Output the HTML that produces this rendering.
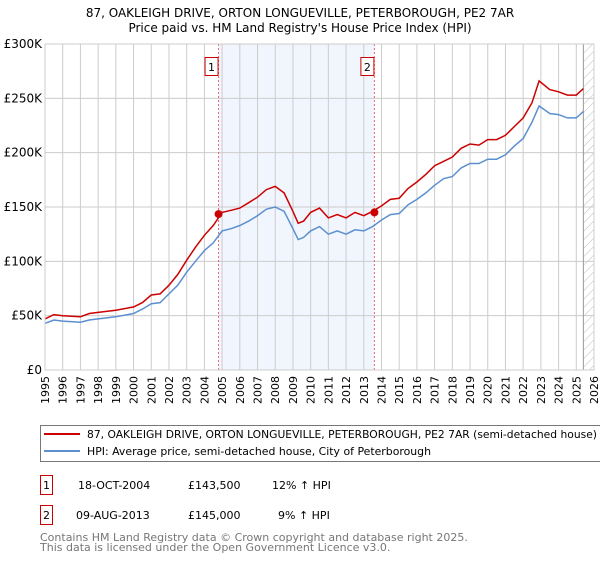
<!DOCTYPE html>
<html><head><meta charset="utf-8">
<style>
body{margin:0;background:#fff;width:600px;height:560px;overflow:hidden;font-family:"DejaVu Sans","Liberation Sans",sans-serif}
svg text{font-family:"DejaVu Sans","Liberation Sans",sans-serif}
</style></head><body>
<svg id="c" width="600" height="560" xmlns="http://www.w3.org/2000/svg">
<text x="300" y="17" text-anchor="middle" font-size="12">87, OAKLEIGH DRIVE, ORTON LONGUEVILLE, PETERBOROUGH, PE2 7AR</text>
<text x="300" y="32" text-anchor="middle" font-size="12">Price paid vs. HM Land Registry's House Price Index (HPI)</text>
<g id="plot"></g>
<rect x="40.5" y="425.5" width="560" height="36" fill="#fff" stroke="#777"/>
<line x1="44" y1="434" x2="80" y2="434" stroke="#cc0000" stroke-width="2"/>
<text x="87" y="438" font-size="11" textLength="510" lengthAdjust="spacingAndGlyphs">87, OAKLEIGH DRIVE, ORTON LONGUEVILLE, PETERBOROUGH, PE2 7AR (semi-detached house)</text>
<line x1="44" y1="451" x2="80" y2="451" stroke="#5b8fd0" stroke-width="2"/>
<text x="87" y="455" font-size="11" textLength="344" lengthAdjust="spacingAndGlyphs">HPI: Average price, semi-detached house, City of Peterborough</text>
<g>
<rect x="40.5" y="475.5" width="12" height="19" fill="#fff" stroke="#cc0000"/>
<text x="46.5" y="489" text-anchor="middle" font-size="11">1</text>
<text x="78" y="489" font-size="11">18-OCT-2004</text>
<text x="188" y="489" font-size="11">£143,500</text>
<text x="272" y="489" font-size="11">12% ↑ HPI</text>
</g>
<g>
<rect x="40.5" y="505.5" width="12" height="19" fill="#fff" stroke="#cc0000"/>
<text x="46.5" y="519" text-anchor="middle" font-size="11">2</text>
<text x="76" y="519" font-size="11">09-AUG-2013</text>
<text x="188" y="519" font-size="11">£145,000</text>
<text x="278" y="519" font-size="11">9% ↑ HPI</text>
</g>
<text x="40" y="541" font-size="11" fill="#777">Contains HM Land Registry data © Crown copyright and database right 2025.</text>
<text x="40" y="551" font-size="11" fill="#777">This data is licensed under the Open Government Licence v3.0.</text>
</svg>
<script>
const years=[1995,1995.5,1996,1997,1997.5,1998,1999,2000,2000.5,2001,2001.5,2002,2002.5,2003,2003.5,2004,2004.5,2005,2005.5,2006,2006.5,2007,2007.5,2008,2008.5,2009,2009.3,2009.6,2010,2010.5,2011,2011.5,2012,2012.5,2013,2013.5,2014,2014.5,2015,2015.5,2016,2016.5,2017,2017.5,2018,2018.5,2019,2019.5,2020,2020.5,2021,2021.5,2022,2022.5,2022.9,2023.5,2024,2024.5,2025,2025.4];
const hpiValues=[43,46,45,44,46,47,49,52,56,61,62,70,78,90,100,110,117,128,130,133,137,142,148,150,146,130,120,122,128,132,125,128,125,129,128,132,138,143,144,152,157,163,170,176,178,186,190,190,194,194,198,206,213,228,243,236,235,232,232,238];
const propertyValues=[47,51,50,49,52,53,55,58,62,69,70,78,88,101,113,124,133,145,147,149,154,159,166,169,163,146,135,137,145,149,140,143,140,145,142,146,151,157,158,167,173,180,188,192,196,204,208,207,212,212,216,224,232,246,266,258,256,253,253,259];
const saleYears=[2004.8,2013.6];
const saleValues=[143.5,145];
const saleLabels=['1','2'];
const yTicks=[0,50,100,150,200,250,300];
const yTickLabels=['£0','£50K','£100K','£150K','£200K','£250K','£300K'];
const xStart=1995,xEnd=2026;
const L=45,R=594,T=44,B=370;
const X=y=>L+(y-xStart)/(xEnd-xStart)*(R-L);
const Y=v=>B-v/300*(B-T);
const NS='http://www.w3.org/2000/svg';
const g=document.getElementById('plot');
function mk(t,a,p){const e=document.createElementNS(NS,t);for(const k in a)e.setAttribute(k,a[k]);(p||g).appendChild(e);return e;}
const defs=mk('defs',{});
const pat=mk('pattern',{id:'h',width:6,height:6,patternUnits:'userSpaceOnUse',patternTransform:'rotate(45)'},defs);
mk('line',{x1:0,y1:0,x2:0,y2:6,stroke:'#bbb','stroke-width':1},pat);
let e=mk('rect',{x:X(saleYears[0]),y:T,width:X(saleYears[1])-X(saleYears[0]),height:B-T,fill:'#eef2fc',opacity:0.8});


e=mk('rect',{x:X(2025.4),y:T,width:R-X(2025.4),height:B-T,fill:'url(#h)'});


for(let yr=xStart;yr<=xEnd;yr++){
 e=mk('line',{x1:X(yr),y1:T,x2:X(yr),y2:B,stroke:'#ccc'});
 
 
 e=mk('text',{x:0,y:0,'font-size':11,'text-anchor':'end',transform:`translate(${X(yr)+4},${B+6}) rotate(-90)`});
 e.textContent=yr;
 
 
}
yTicks.forEach((v,i)=>{
 e=mk('line',{x1:L,y1:Y(v),x2:R,y2:Y(v),stroke:'#ccc'});
 
 
 e=mk('text',{x:L-3,y:Y(v)+4,'font-size':12,'text-anchor':'end'});
 e.textContent=yTickLabels[i];
 
 
});
e=mk('line',{x1:X(2025.4),y1:T,x2:X(2025.4),y2:B,stroke:'#999'});


saleYears.forEach((s,i)=>{
 e=mk('line',{x1:X(s),y1:T,x2:X(s),y2:B,stroke:'#e66','stroke-dasharray':'2,2'});
 
 
 e=mk('rect',{x:X(s)-13.5,y:57.5,width:13,height:18,fill:'#fff',stroke:'#cc0000'});
 
 
 e=mk('text',{x:X(s)-7,y:71,'font-size':11,'text-anchor':'middle'});
 e.textContent=saleLabels[i];
 
 
});
function path(vals){return years.map((y,i)=>(i?'L':'M')+X(y).toFixed(1)+','+Y(vals[i]).toFixed(1)).join('');}
e=mk('path',{d:path(hpiValues),fill:'none',stroke:'#5b8fd0','stroke-width':1.5});


e=mk('path',{d:path(propertyValues),fill:'none',stroke:'#cc0000','stroke-width':1.5});


saleYears.forEach((s,i)=>{
 e=mk('circle',{cx:X(s),cy:Y(saleValues[i]),r:4,fill:'#cc0000'});
 
 
});
e=mk('rect',{x:L,y:T,width:R-L,height:B-T,fill:'none',stroke:'#ccc'});


</script>
</body></html>
